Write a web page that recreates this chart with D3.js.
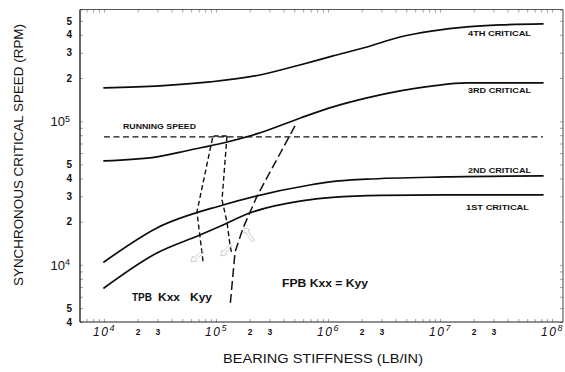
<!DOCTYPE html>
<html>
<head>
<meta charset="utf-8">
<script src="https://cdn.jsdelivr.net/npm/d3@7"></script>
<style>
  body { margin: 0; background: #fff; }
  svg { display: block; font-family: "Liberation Sans", Arial, Helvetica, sans-serif; }
</style>
</head>
<body>
<svg id="chart" width="565" height="372"></svg>
<script>
// Synchronous critical speeds (rpm) versus bearing stiffness (lb/in)
const critical1 = [[1e4, 6900], [2.97e4, 12100], [7.19e4, 16150], [1.155e5, 18970], [1.89e5, 22600],
                   [6.0e5, 28000], [1.1e6, 29500], [3.0e6, 30500], [1.1e7, 30700], [8.3e7, 30700]];
const critical2 = [[1e4, 10470], [2.97e4, 18070], [1.155e5, 26130], [6.9e5, 35990], [1.04e6, 37790],
                   [2.2e6, 39500], [1.11e7, 40950], [8.3e7, 41610]];
const critical3 = [[1e4, 52900], [2.97e4, 56400], [5.87e4, 63100], [1.155e5, 70600], [2.3e5, 81600],
                   [5.6e5, 105000], [1.11e6, 125800], [2.23e6, 145300], [4.4e6, 162600],
                   [8.66e6, 176200], [1.74e7, 184900], [8.3e7, 184900]];
const critical4 = [[1e4, 170600], [3.16e4, 176200], [8.8e4, 187800], [2.47e5, 210000], [5.6e5, 246600],
                   [1.11e6, 285000], [2.23e6, 329000], [4.4e6, 386000], [8.66e6, 425500],
                   [1.74e7, 453700], [3.44e7, 468500], [8.3e7, 476000]];
const curveNames = ["1ST CRITICAL", "2ND CRITICAL", "3RD CRITICAL", "4TH CRITICAL"];

// Running speed (rpm) across the stiffness range
const runningSpeed = 77800;
const runningRange = [1e4, 8.3e7];

// Bearing stiffness paths against speed: tilting-pad (TPB) and fixed-pad (FPB)
const tpbKxx = [[76600, 10600], [67600, 23360], [94000, 79000], [125400, 79000]];
const tpbKyy = [[125400, 79000], [113200, 28310], [125400, 19900], [133400, 13760], [139000, 11720]];
const fpb = [[507000, 92700], [233000, 30200], [175000, 18150], [148000, 12300], [133400, 5090]];

// Small hand-drawn pointer arrows: [tail, head]
const pointers = [
  [[77100, 12360], [59400, 10520]],
  [[136200, 13760], [110200, 11530]],
  [[215300, 14670], [177800, 18160]]
];

// Tick values and labels
const yTickValues = [4000, 5000, 1e4, 2e4, 3e4, 4e4, 5e4, 1e5, 2e5, 3e5, 4e5, 5e5];
const xTickValues = [1e4, 2e4, 3e4, 1e5, 2e5, 3e5, 1e6, 2e6, 3e6, 1e7, 2e7, 3e7, 1e8];
const xTitle = "BEARING STIFFNESS (LB/IN)";
const yTitle = "SYNCHRONOUS CRITICAL SPEED (RPM)";

const svg = d3.select("#chart");
const plot = { left: 80, right: 563, top: 9.5, bottom: 322 };

const x = d3.scaleLog().domain([6110, 1.253e8]).range([plot.left, plot.right]);
const y = d3.scaleLog().domain([4000, 6e5]).range([plot.bottom, plot.top]);

const isPow10 = v => Math.abs(Math.log10(v) - Math.round(Math.log10(v))) < 1e-9;
const mantissa = v => Math.round(v / Math.pow(10, Math.floor(Math.log10(v) + 1e-9)));

function minorTicks(lo, hi) {
  const out = [];
  for (let e = Math.floor(Math.log10(lo)); e <= Math.ceil(Math.log10(hi)); e++) {
    for (let m = 1; m <= 9; m++) {
      const v = m * Math.pow(10, e);
      if (v >= lo && v <= hi) out.push(v);
    }
  }
  return out;
}

// Small inward ticks around the frame
const frameTicks = svg.append("g");
const yMinor = minorTicks(4000, 6e5), xMinor = minorTicks(6110, 1.253e8);
[[d3.axisRight(y), plot.left, 0, yMinor], [d3.axisLeft(y), plot.right, 0, yMinor],
 [d3.axisBottom(x), 0, plot.top, xMinor], [d3.axisTop(x), 0, plot.bottom, xMinor]]
  .forEach(([ax, tx, ty, vals]) => {
    const g = frameTicks.append("g").attr("transform", `translate(${tx},${ty})`)
      .call(ax.tickValues(vals).tickSize(3).tickFormat(""));
    g.select(".domain").remove();
    g.selectAll("line").attr("stroke", "#777").attr("stroke-width", 0.7);
  });

// Frame
svg.append("line").attr("x1", plot.left).attr("x2", plot.right).attr("y1", plot.top).attr("y2", plot.top)
  .attr("stroke", "#555").attr("stroke-width", 1);
svg.append("line").attr("x1", plot.right).attr("x2", plot.right).attr("y1", plot.top).attr("y2", plot.bottom)
  .attr("stroke", "#444").attr("stroke-width", 1);
svg.append("line").attr("x1", plot.left).attr("x2", plot.right).attr("y1", plot.bottom).attr("y2", plot.bottom)
  .attr("stroke", "#222").attr("stroke-width", 1.2);
svg.append("line").attr("x1", plot.left).attr("x2", plot.left).attr("y1", plot.top).attr("y2", plot.bottom)
  .attr("stroke", "#111").attr("stroke-width", 1.3);

function powerLabel(text, v, supSize, raise) {
  const e = Math.round(Math.log10(v));
  text.text(null);
  text.append("tspan").text("10");
  text.append("tspan").attr("dy", raise).attr("font-size", supSize).text(e);
}

// Y axis labels
const yAxis = svg.append("g").attr("transform", `translate(${plot.left},0)`)
  .call(d3.axisLeft(y).tickValues(yTickValues).tickSize(0).tickPadding(8)
    .tickFormat(v => isPow10(v) ? "" : mantissa(v)));
yAxis.select(".domain").remove();
yAxis.selectAll(".tick text").each(function(v) {
  const t = d3.select(this).attr("fill", "#111");
  if (isPow10(v)) {
    t.attr("font-size", 13).attr("x", -10);
    powerLabel(t, v, 9, "-0.45em");
  } else {
    t.attr("font-size", 10).attr("font-weight", "bold");
  }
});

// X axis labels
const xAxis = svg.append("g").attr("transform", `translate(0,${plot.bottom})`)
  .call(d3.axisBottom(x).tickValues(xTickValues).tickSize(0).tickPadding(5)
    .tickFormat(v => isPow10(v) ? "" : mantissa(v)));
xAxis.select(".domain").remove();
xAxis.selectAll(".tick text").each(function(v) {
  const t = d3.select(this).attr("fill", "#111");
  if (isPow10(v)) {
    t.attr("font-size", 12).attr("font-style", "italic").attr("letter-spacing", 1.5);
    powerLabel(t, v, 9, "-0.45em");
  } else {
    t.attr("font-size", 8.5).attr("font-weight", "bold").attr("dy", "0.95em");
  }
});

// Axis titles
svg.append("text").attr("x", 323).attr("y", 363).attr("text-anchor", "middle")
  .attr("font-size", 13).attr("textLength", 200).attr("lengthAdjust", "spacingAndGlyphs")
  .attr("fill", "#111").text(xTitle);
svg.append("text").attr("transform", "translate(23,155) rotate(-90)").attr("text-anchor", "middle")
  .attr("font-size", 13).attr("textLength", 262).attr("lengthAdjust", "spacingAndGlyphs")
  .attr("fill", "#111").text(yTitle);

// Critical speed curves
const smooth = d3.line().x(d => x(d[0])).y(d => y(d[1])).curve(d3.curveMonotoneX);
const curves = [critical1, critical2, critical3, critical4];
svg.append("g").selectAll("path").data(curves).join("path")
  .attr("d", smooth).attr("fill", "none").attr("stroke", "#0c0c0c")
  .attr("stroke-width", 1.7).attr("stroke-linecap", "round");

// Running speed
svg.append("line")
  .attr("x1", x(runningRange[0])).attr("x2", x(runningRange[1]))
  .attr("y1", y(runningSpeed)).attr("y2", y(runningSpeed))
  .attr("stroke", "#111").attr("stroke-width", 1.4).attr("stroke-dasharray", "6,3.5");

// Bearing stiffness paths
const straight = d3.line().x(d => x(d[0])).y(d => y(d[1]));
svg.append("path").attr("d", straight(tpbKxx)).attr("fill", "none")
  .attr("stroke", "#111").attr("stroke-width", 1.4).attr("stroke-dasharray", "5,3");
svg.append("path").attr("d", straight(tpbKyy)).attr("fill", "none")
  .attr("stroke", "#111").attr("stroke-width", 1.4).attr("stroke-dasharray", "5,3");
svg.append("path").attr("d", straight(fpb)).attr("fill", "none")
  .attr("stroke", "#111").attr("stroke-width", 1.5).attr("stroke-dasharray", "9,4");

// Faint open pointer arrows
svg.append("g").selectAll("path").data(pointers).join("path")
  .attr("d", ([tail, head]) => {
    const x0 = x(tail[0]), y0 = y(tail[1]), x1 = x(head[0]), y1 = y(head[1]);
    const dx = x1 - x0, dy = y1 - y0, L = Math.hypot(dx, dy);
    const ux = dx / L, uy = dy / L, nx = -uy, ny = ux;
    const hl = 5, sw = 1.3, hw = 3.3;
    const bx = x1 - ux * hl, by = y1 - uy * hl;
    const pts = [[x0 + nx * sw, y0 + ny * sw], [bx + nx * sw, by + ny * sw], [bx + nx * hw, by + ny * hw],
                 [x1, y1], [bx - nx * hw, by - ny * hw], [bx - nx * sw, by - ny * sw], [x0 - nx * sw, y0 - ny * sw]];
    return "M" + pts.map(p => p[0].toFixed(1) + "," + p[1].toFixed(1)).join("L") + "Z";
  })
  .attr("fill", "none").attr("stroke", "#bbb").attr("stroke-width", 0.7);

// Curve labels
const labelSpots = [[466, 210], [468, 173], [468, 93], [468, 36]];
svg.append("g").selectAll("text").data(curveNames).join("text")
  .attr("x", (d, i) => labelSpots[i][0]).attr("y", (d, i) => labelSpots[i][1])
  .attr("font-size", 8).attr("font-weight", "bold").attr("fill", "#111")
  .attr("textLength", 63).attr("lengthAdjust", "spacingAndGlyphs").text(d => d);

svg.append("text").attr("x", 123).attr("y", 129).attr("font-size", 8).attr("font-weight", "bold")
  .attr("fill", "#111").attr("textLength", 73).attr("lengthAdjust", "spacingAndGlyphs").text("RUNNING SPEED");

// Bearing type annotations
[["TPB", 132, 20], ["Kxx", 158, 22], ["Kyy", 190, 22]].forEach(([s, px, w]) => {
  svg.append("text").attr("x", px).attr("y", 301).attr("font-size", 11).attr("font-weight", "bold")
    .attr("fill", "#111").attr("textLength", w).attr("lengthAdjust", "spacingAndGlyphs").text(s);
});
svg.append("text").attr("x", 282).attr("y", 287).attr("font-size", 11).attr("font-weight", "bold")
  .attr("fill", "#111").attr("textLength", 86).attr("lengthAdjust", "spacingAndGlyphs").text("FPB Kxx = Kyy");
</script>
</body>
</html>
